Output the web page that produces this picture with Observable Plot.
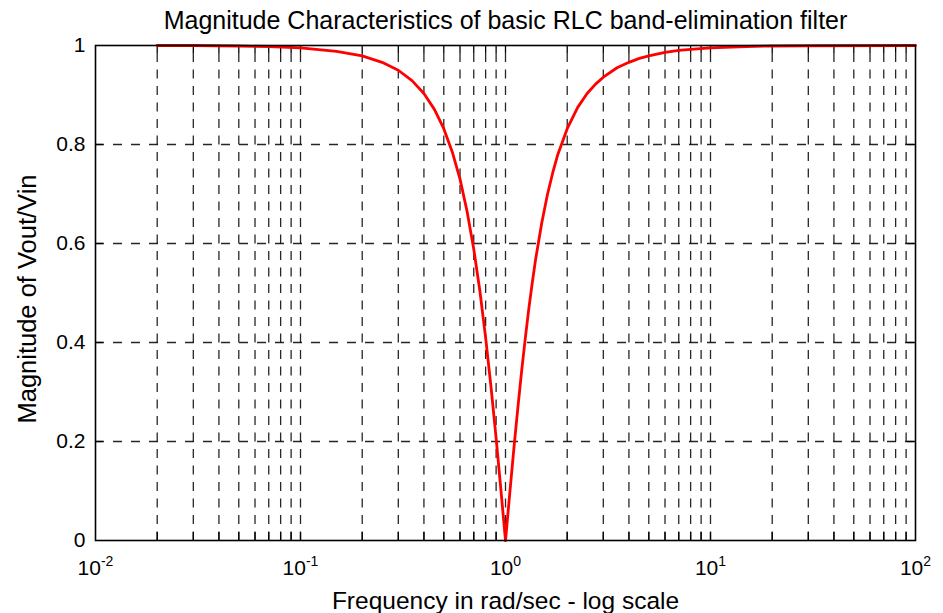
<!DOCTYPE html>
<html>
<head>
<meta charset="utf-8">
<script src="https://cdn.jsdelivr.net/npm/d3@7"></script>
<script src="https://cdn.jsdelivr.net/npm/@observablehq/plot@0.6"></script>
<style>
  html, body { margin: 0; padding: 0; background: white; }
</style>
</head>
<body>
<div id="chart"></div>
<script>
// Frequency (rad/sec)
const freq = [0.02, 0.03, 0.05, 0.07, 0.1, 0.15, 0.2, 0.25, 0.3, 0.35, 0.4, 0.45, 0.5, 0.55, 0.6, 0.65, 0.7, 0.75, 0.8, 0.85, 0.9, 0.95, 1.0,
              1.05, 1.1, 1.15, 1.2, 1.25, 1.3, 1.35, 1.4, 1.5, 1.6, 1.7, 1.8, 2, 2.25, 2.5, 2.75, 3, 3.5, 4, 4.5, 5, 6, 7, 8, 10, 15, 20, 30, 100];
// Magnitude of Vout/Vin
const magnitude = [1.0, 1.0, 0.999, 0.998, 0.995, 0.988, 0.979, 0.966, 0.950, 0.929, 0.903, 0.871, 0.832, 0.785, 0.730, 0.664, 0.589, 0.504, 0.410, 0.310, 0.207, 0.102, 0.0,
                   0.097, 0.188, 0.270, 0.344, 0.410, 0.469, 0.520, 0.566, 0.640, 0.698, 0.743, 0.780, 0.832, 0.875, 0.903, 0.922, 0.936, 0.955, 0.966, 0.974, 0.979, 0.986, 0.990, 0.992, 0.995, 0.998, 0.999, 0.9995, 1.0];

const xGrid = [0.02, 0.03, 0.04, 0.05, 0.06, 0.07, 0.08, 0.09,
               0.1, 0.2, 0.3, 0.4, 0.5, 0.6, 0.7, 0.8, 0.9,
               1, 2, 3, 4, 5, 6, 7, 8, 9,
               10, 20, 30, 40, 50, 60, 70, 80, 90];
const xTicks = [0.01, 0.1, 1, 10, 100];
const xTickExponents = ["-2", "-1", "0", "1", "2"];
const yTicks = [0, 0.2, 0.4, 0.6, 0.8, 1];
const yTickLabels = ["0", "0.2", "0.4", "0.6", "0.8", "1"];

const titleText = "Magnitude Characteristics of basic RLC band-elimination filter";
const xLabel = "Frequency in rad/sec - log scale";
const yLabel = "Magnitude of Vout/Vin";

const data = freq.map((f, i) => ({f, m: magnitude[i]}));
const yInner = yTicks.slice(1, -1);

const chart = Plot.plot({
  width: 943,
  height: 613,
  marginLeft: 95,
  marginRight: 28,
  marginTop: 45,
  marginBottom: 73,
  style: {fontFamily: "'Liberation Sans', Arial, Helvetica, sans-serif", fontSize: "21px", background: "white", color: "black"},
  x: {type: "log", domain: [0.01, 100]},
  y: {domain: [0, 1]},
  marks: [
    Plot.ruleX(xGrid, {stroke: "black", strokeWidth: 1.3, strokeOpacity: 0.85, strokeDasharray: "9,7.5", strokeDashoffset: -8}),
    Plot.ruleY(yInner, {stroke: "black", strokeWidth: 1.3, strokeOpacity: 0.85, strokeDasharray: "9,9"}),
    // inward tick marks
    Plot.ruleX(xGrid, {y1: 0, y2: 0.016, stroke: "black", strokeWidth: 1.3}),
    Plot.ruleX(xGrid, {y1: 0.984, y2: 1, stroke: "black", strokeWidth: 1.3}),
    Plot.ruleY(yInner, {x1: 0.01, x2: 0.0109, stroke: "black", strokeWidth: 1.3}),
    Plot.ruleY(yInner, {x1: 91.5, x2: 100, stroke: "black", strokeWidth: 1.3}),
    Plot.line(data, {x: "f", y: "m", stroke: "red", strokeWidth: 2.8}),
    Plot.frame({stroke: "black", strokeWidth: 1.6}),
    Plot.axisX(xTicks, {
      tickSize: 0, tickPadding: 20,
      tickFormat: (d) => "10^" + xTickExponents[xTicks.indexOf(d)],
      label: null
    }),
    Plot.axisY(yTicks, {
      tickSize: 0, tickPadding: 10,
      tickFormat: (d) => yTickLabels[yTicks.indexOf(d)],
      label: null
    }),
    Plot.text([titleText], {frameAnchor: "top", lineAnchor: "bottom", dy: -17, fontSize: 25}),
    Plot.text([xLabel], {frameAnchor: "bottom", lineAnchor: "bottom", dy: 68, fontSize: 24.5}),
    Plot.text([yLabel], {frameAnchor: "left", textAnchor: "middle", lineAnchor: "bottom", rotate: -90, dx: -60, dy: 6, fontSize: 25.5})
  ]
});

document.getElementById("chart").appendChild(chart);

// render exponent as superscript
d3.select(chart).selectAll('g[aria-label="x-axis tick label"] text').each(function () {
  const t = d3.select(this);
  const s = t.text();
  const parts = s.split("^");
  t.text(null);
  t.append("tspan").text(parts[0]);
  t.append("tspan").attr("dy", "-9").attr("font-size", "14px").text(parts[1]);
});
</script>
</body>
</html>
